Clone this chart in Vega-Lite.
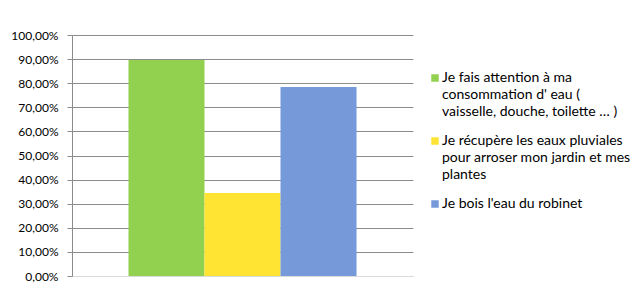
{
  "$schema": "https://vega.github.io/schema/vega-lite/v6.json",
  "width": 341,
  "height": 241,
  "autosize": {"type": "none"},
  "padding": {"left": 72, "top": 35, "right": 230, "bottom": 22},
  "data": {
    "values": [
      {"reponse": "Je fais attention à ma consommation d' eau ( vaisselle, douche, toilette … )", "pct": 0.896},
      {"reponse": "Je récupère les eaux pluviales pour arroser mon jardin et mes plantes", "pct": 0.344},
      {"reponse": "Je bois l'eau du robinet", "pct": 0.784}
    ]
  },
  "mark": {"type": "bar"},
  "encoding": {
    "x": {
      "field": "reponse",
      "type": "nominal",
      "sort": null,
      "scale": {"paddingInner": 0, "paddingOuter": 0.743},
      "axis": {"labels": false, "ticks": false, "title": null, "grid": false, "domainColor": "#d9d9d9", "domainWidth": 1}
    },
    "y": {
      "field": "pct",
      "type": "quantitative",
      "scale": {"domain": [0, 1], "nice": false},
      "axis": {
        "values": [0, 0.1, 0.2, 0.3, 0.4, 0.5, 0.6, 0.7, 0.8, 0.9, 1],
        "labelExpr": "replace(format(datum.value, '.2%'), '.', ',')",
        "title": null,
        "tickColor": "#8c8c8c",
        "tickSize": 5,
        "domainColor": "#8c8c8c",
        "gridColor": {"condition": {"test": "datum.value === 0", "value": "#d9d9d9"}, "value": "#8c8c8c"},
        "labelFont": "Lato",
        "labelFontSize": 12,
        "labelColor": "#000000",
        "labelPadding": 9
      }
    },
    "color": {
      "field": "reponse",
      "type": "nominal",
      "sort": null,
      "scale": {"range": ["#92D050", "#FFE433", "#7699D9"]},
      "legend": {
        "title": null,
        "orient": "none",
        "legendX": 356,
        "legendY": 36,
        "symbolType": "square",
        "symbolSize": 56,
        "symbolStrokeWidth": 0,
        "labelFont": "Lato",
        "labelFontSize": 14,
        "labelColor": "#000000",
        "labelLimit": 300,
        "labelOffset": 0,
        "rowPadding": 15,
        "encode": {"labels": {"update": {"lineHeight": {"value": 17}}}},
        "labelExpr": "indexof(datum.label, 'attention') >= 0 ? ['Je fais attention à ma', \"consommation d' eau (\", 'vaisselle, douche, toilette … )'] : indexof(datum.label, 'pluviales') >= 0 ? ['Je récupère les eaux pluviales', 'pour arroser mon jardin et mes', 'plantes'] : datum.label"
      }
    }
  },
  "config": {"view": {"stroke": null}}
}
